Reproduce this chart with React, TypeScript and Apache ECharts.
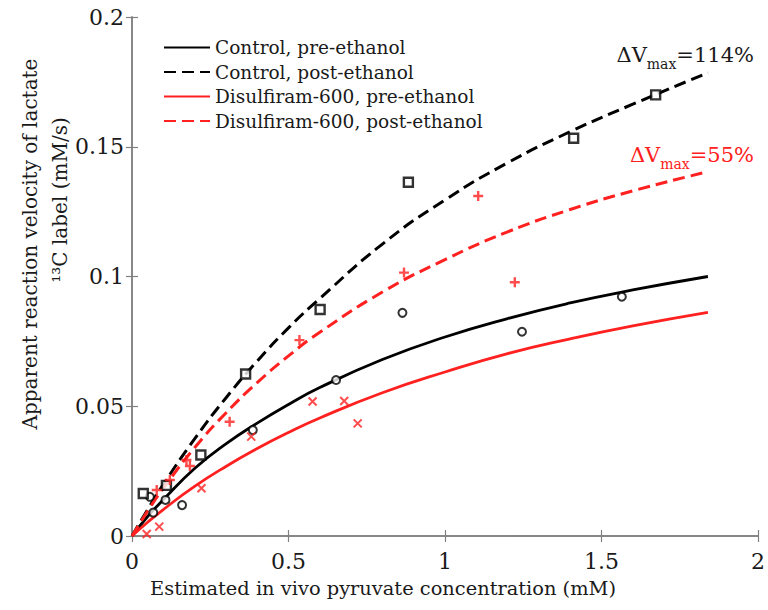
import React, { useEffect, useRef } from "react";
import * as echarts from "echarts";

// Fitted curves
const xFit = [0, 0.05, 0.1, 0.2, 0.3, 0.4, 0.5, 0.6, 0.8, 1.0, 1.2, 1.4, 1.6, 1.84];
const ctrlPreFit = [0, 0.0075, 0.014, 0.026, 0.0355, 0.0435, 0.0507, 0.0572, 0.068, 0.0767, 0.0838, 0.0898, 0.0948, 0.1];
const ctrlPostFit = [0, 0.0102, 0.0199, 0.0374, 0.0532, 0.0674, 0.0802, 0.0915, 0.1125, 0.1295, 0.1438, 0.1558, 0.1664, 0.1785];
const disPreFit = [0, 0.0053, 0.0102, 0.0191, 0.0268, 0.0337, 0.0399, 0.0455, 0.0552, 0.0632, 0.0703, 0.076, 0.081, 0.0862];
const disPostFit = [0, 0.0096, 0.0184, 0.034, 0.0474, 0.0591, 0.0694, 0.0785, 0.094, 0.1065, 0.1172, 0.1258, 0.133, 0.1404];

// Measured points
const ctrlPrePts = [[0.057, 0.0151], [0.068, 0.009], [0.107, 0.0139], [0.16, 0.0119], [0.386, 0.0408], [0.652, 0.0601], [0.864, 0.086], [1.246, 0.0787], [1.565, 0.0922]];
const ctrlPostPts = [[0.036, 0.0164], [0.11, 0.0195], [0.22, 0.0312], [0.363, 0.0624], [0.601, 0.0873], [0.883, 0.1363], [1.411, 0.1533], [1.673, 0.17]];
const disPrePts = [[0.047, 0.0008], [0.087, 0.0036], [0.222, 0.0184], [0.381, 0.0383], [0.577, 0.0518], [0.678, 0.052], [0.721, 0.0434]];
const disPostPts = [[0.079, 0.0177], [0.121, 0.0216], [0.174, 0.0293], [0.185, 0.027], [0.312, 0.044], [0.535, 0.0755], [0.869, 0.1015], [1.106, 0.131], [1.223, 0.0978]];

const seriesNames = [
  "Control, pre-ethanol",
  "Control, post-ethanol",
  "Disulfiram-600, pre-ethanol",
  "Disulfiram-600, post-ethanol",
];

const RED = "#ff2020";
const BLACK = "#000000";
const FONT = "DejaVu Serif";

const zip = (xs: number[], ys: number[]) => xs.map((x, i) => [x, ys[i]]);

export default function App() {
  const ref = useRef<HTMLDivElement>(null);
  useEffect(() => {
    if (!ref.current) return;
    const chart = echarts.init(ref.current, null, { renderer: "svg" });
    const axisLine = { show: true, lineStyle: { color: "#808080", width: 1.5 } };
    const tick = { show: true, inside: true, length: 6, lineStyle: { color: "#808080", width: 1.2 } };
    const lineSeries = (name: string, ys: number[], color: string, dashed: boolean) => ({
      name,
      type: "line",
      data: zip(xFit, ys),
      smooth: true,
      symbol: "none",
      lineStyle: { color, width: dashed ? 3 : 2.8, type: dashed ? [12, 6] : "solid" },
      itemStyle: { color },
      z: 2,
    });
    const xPath = "path://M0,0L10,10M10,0L0,10";
    const plusPath = "path://M5,0L5,10M0,5L10,5";
    chart.setOption({
      animation: false,
      grid: { left: 132, top: 17, right: 8, bottom: 74, containLabel: false },
      legend: {
        data: seriesNames,
        orient: "vertical",
        left: 158,
        top: 33,
        itemWidth: 46,
        itemHeight: 14,
        itemGap: 5.5,
        itemStyle: { opacity: 0, borderWidth: 0 },
        textStyle: { fontFamily: FONT, fontSize: 18.5, color: "#1a1a1a" },
      },
      xAxis: [
        {
          type: "value",
          min: 0,
          max: 2,
          interval: 0.5,
          axisLine,
          axisTick: tick,
          splitLine: { show: false },
          axisLabel: { fontFamily: FONT, fontSize: 22, color: "#1a1a1a", margin: 14 },
        },
        {
          type: "value",
          position: "top",
          min: 0,
          max: 2,
          interval: 0.5,
          axisLine,
          axisTick: tick,
          splitLine: { show: false },
          axisLabel: { show: false },
        },
      ],
      yAxis: [
        {
          type: "value",
          min: 0,
          max: 0.2,
          interval: 0.05,
          axisLine,
          axisTick: tick,
          splitLine: { show: false },
          axisLabel: { fontFamily: FONT, fontSize: 22, color: "#1a1a1a", margin: 8 },
        },
        {
          type: "value",
          position: "right",
          min: 0,
          max: 0.2,
          interval: 0.05,
          axisLine,
          axisTick: tick,
          splitLine: { show: false },
          axisLabel: { show: false },
        },
      ],
      series: [
        lineSeries(seriesNames[0], ctrlPreFit, BLACK, false),
        lineSeries(seriesNames[1], ctrlPostFit, BLACK, true),
        lineSeries(seriesNames[2], disPreFit, RED, false),
        lineSeries(seriesNames[3], disPostFit, RED, true),
        {
          name: "Control pre data",
          type: "scatter",
          data: ctrlPrePts,
          symbol: "circle",
          symbolSize: 8,
          itemStyle: { color: "#ffffff", borderColor: BLACK, borderWidth: 2 },
          z: 3,
        },
        {
          name: "Control post data",
          type: "scatter",
          data: ctrlPostPts,
          symbol: "rect",
          symbolSize: 9,
          itemStyle: { color: "#ffffff", borderColor: BLACK, borderWidth: 2.4 },
          z: 3,
        },
        {
          name: "Disulfiram pre data",
          type: "scatter",
          data: disPrePts,
          symbol: xPath,
          symbolSize: 8,
          itemStyle: { color: "none", borderColor: RED, borderWidth: 2 },
          z: 3,
        },
        {
          name: "Disulfiram post data",
          type: "scatter",
          data: disPostPts,
          symbol: plusPath,
          symbolSize: 10,
          itemStyle: { color: "none", borderColor: RED, borderWidth: 2.4 },
          z: 3,
        },
      ],
      graphic: [
        {
          type: "text",
          x: 383,
          y: 588,
          style: {
            text: "Estimated in vivo pyruvate concentration (mM)",
            fontFamily: FONT,
            fontSize: 19.4,
            fill: "#1a1a1a",
            textAlign: "center",
            textVerticalAlign: "middle",
          },
        },
        {
          type: "text",
          x: 30,
          y: 244,
          rotation: Math.PI / 2,
          style: {
            text: "Apparent reaction velocity of lactate",
            fontFamily: FONT,
            fontSize: 20,
            fill: "#1a1a1a",
            textAlign: "center",
            textVerticalAlign: "middle",
          },
        },
        {
          type: "text",
          x: 60,
          y: 200,
          rotation: Math.PI / 2,
          style: {
            text: "¹³C label (mM/s)",
            fontFamily: FONT,
            fontSize: 20,
            fill: "#1a1a1a",
            textAlign: "center",
            textVerticalAlign: "middle",
          },
        },
        {
          type: "text",
          x: 754,
          y: 39,
          style: {
            text: "{a|ΔV}{b|max}{a|=114%}",
            textAlign: "right",
            fill: "#1a1a1a",
            rich: {
              a: { fontFamily: FONT, fontSize: 21, lineHeight: 26, fill: "#1a1a1a", verticalAlign: "bottom" },
              b: { fontFamily: FONT, fontSize: 14, lineHeight: 26, fill: "#1a1a1a", verticalAlign: "bottom", padding: [0, 0, -6, 0] },
            },
          },
        },
        {
          type: "text",
          x: 754,
          y: 139,
          style: {
            text: "{a|ΔV}{b|max}{a|=55%}",
            textAlign: "right",
            fill: RED,
            rich: {
              a: { fontFamily: FONT, fontSize: 21, lineHeight: 26, fill: RED, verticalAlign: "bottom" },
              b: { fontFamily: FONT, fontSize: 14, lineHeight: 26, fill: RED, verticalAlign: "bottom", padding: [0, 0, -6, 0] },
            },
          },
        },
      ],
    });
    return () => chart.dispose();
  }, []);
  return (
    <div
      ref={ref}
      style={{ position: "absolute", left: 0, top: 0, width: 768, height: 610, background: "#ffffff" }}
    />
  );
}
